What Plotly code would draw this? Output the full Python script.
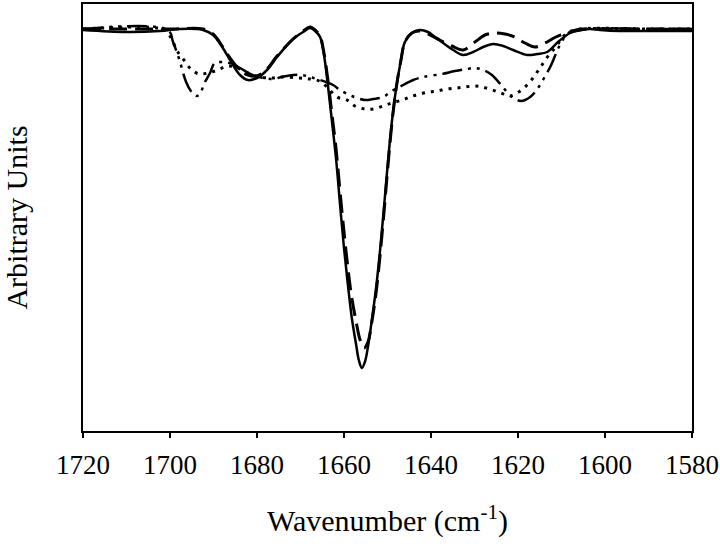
import plotly.graph_objects as go

# wavenumber (cm-1) and arbitrary intensity for the four spectra (baseline = 0)
wn_solid = [1720, 1710, 1702.3, 1697.7, 1692.4, 1690.1, 1688.0, 1686.2, 1683.9, 1682.1,
            1680.0, 1677.7, 1675.4, 1671.7, 1669.4, 1667.8, 1666.4, 1665.5, 1664.6, 1663.7,
            1662.8, 1661.8, 1660.9, 1660.0, 1659.1, 1658.2, 1657.2, 1656.6, 1655.9, 1655.2,
            1654.5, 1653.6, 1652.6, 1651.7, 1650.8, 1649.9, 1649.0, 1648.0, 1646.9, 1646.0,
            1644.4, 1642.6, 1640.7, 1639.1, 1637.2, 1634.9, 1632.6, 1630.3, 1628.0, 1625.7,
            1623.4, 1621.1, 1617.9, 1615.6, 1613.3, 1610.8, 1608.0, 1605.7, 1603.4, 1601.1,
            1596.6, 1589.7, 1580]
int_solid = [-0.01, -0.03, -0.02, 0.00, -0.01, -0.06, -0.18, -0.31, -0.46, -0.51,
             -0.49, -0.41, -0.28, -0.10, -0.03, 0.01, -0.03, -0.08, -0.26, -0.56,
             -0.91, -1.31, -1.76, -2.19, -2.56, -2.89, -3.16, -3.31, -3.39, -3.33,
             -3.18, -2.91, -2.58, -2.21, -1.78, -1.33, -0.93, -0.59, -0.31, -0.13,
             -0.04, -0.01, -0.03, -0.08, -0.14, -0.21, -0.26, -0.23, -0.18, -0.15,
             -0.17, -0.21, -0.26, -0.25, -0.23, -0.13, -0.04, -0.01, 0.00, -0.01,
             -0.02, -0.02, -0.02]

wn_dash = [1720, 1700, 1692.4, 1690.1, 1688.0, 1686.2, 1683.9, 1682.1, 1680.0, 1677.7,
           1675.4, 1671.7, 1669.4, 1667.8, 1666.4, 1665.5, 1664.6, 1663.7, 1662.8, 1661.8,
           1660.9, 1660.0, 1659.1, 1658.2, 1657.2, 1656.3, 1655.4, 1654.5, 1653.6, 1652.6,
           1651.7, 1650.8, 1649.9, 1649.0, 1648.0, 1646.9, 1646.0, 1644.4, 1642.6, 1640.7,
           1638.0, 1635.2, 1632.6, 1629.9, 1627.6, 1625.3, 1623.0, 1620.7, 1618.4, 1616.1,
           1613.8, 1611.3, 1608.7, 1605.7, 1603.4, 1590, 1580]
int_dash = [0.00, 0.00, 0.00, -0.05, -0.17, -0.29, -0.41, -0.46, -0.47, -0.40,
            -0.27, -0.10, -0.02, 0.02, -0.02, -0.07, -0.24, -0.51, -0.84, -1.21,
            -1.63, -2.03, -2.39, -2.69, -2.93, -3.11, -3.19, -3.13, -2.93, -2.63,
            -2.26, -1.83, -1.37, -0.95, -0.59, -0.31, -0.13, -0.04, -0.02, -0.05,
            -0.11, -0.17, -0.21, -0.13, -0.06, -0.04, -0.05, -0.08, -0.14, -0.18,
            -0.14, -0.08, -0.04, -0.01, 0.00, 0.00, 0.00]

wn_dot = [1720, 1700.9, 1700.0, 1699.1, 1698.2, 1696.8, 1695.2, 1693.3, 1691.3, 1689.0,
          1686.7, 1684.4, 1682.1, 1679.3, 1676.6, 1674.3, 1670.2, 1667.8, 1665.7, 1663.9,
          1661.6, 1659.3, 1657.5, 1655.2, 1653.3, 1651.0, 1649.0, 1646.6, 1644.8, 1642.6,
          1640.3, 1638.5, 1636.4, 1634.1, 1632.3, 1630.0, 1628.2, 1625.9, 1623.9, 1621.8,
          1619.5, 1617.5, 1615.9, 1614.5, 1612.9, 1611.3, 1609.9, 1608.3, 1605.7, 1590, 1580]
int_dot = [0.00, -0.01, -0.07, -0.15, -0.23, -0.31, -0.40, -0.45, -0.44, -0.41,
           -0.37, -0.39, -0.44, -0.48, -0.49, -0.48, -0.49, -0.50, -0.52, -0.58,
           -0.68, -0.71, -0.77, -0.80, -0.80, -0.77, -0.74, -0.71, -0.68, -0.65,
           -0.63, -0.62, -0.60, -0.59, -0.58, -0.57, -0.58, -0.61, -0.64, -0.67,
           -0.62, -0.54, -0.45, -0.36, -0.26, -0.18, -0.09, -0.03, 0.00, 0.00, 0.00]

wn_dashdot = [1720, 1700.5, 1699.3, 1697.9, 1696.3, 1695.2, 1694.0, 1693.1, 1692.2, 1690.8,
              1689.7, 1688.0, 1685.7, 1683.9, 1681.1, 1678.6, 1676.3, 1674.3, 1671.7, 1669.7,
              1667.8, 1665.5, 1662.5, 1660.9, 1658.2, 1655.2, 1653.3, 1651.0, 1649.0, 1646.4,
              1644.1, 1641.8, 1637.5, 1634.5, 1631.7, 1629.9, 1628.0, 1626.0, 1623.7, 1621.4,
              1619.3, 1617.2, 1615.4, 1614.0, 1612.6, 1611.5, 1610.6, 1609.4, 1608.0, 1605.7,
              1590, 1580]
int_dashdot = [0.00, -0.01, -0.13, -0.30, -0.53, -0.62, -0.67, -0.65, -0.55, -0.44,
               -0.34, -0.33, -0.35, -0.39, -0.46, -0.49, -0.50, -0.48, -0.46, -0.46,
               -0.48, -0.51, -0.56, -0.61, -0.67, -0.71, -0.70, -0.68, -0.62, -0.56,
               -0.51, -0.48, -0.45, -0.42, -0.40, -0.39, -0.41, -0.46, -0.57, -0.68,
               -0.72, -0.68, -0.59, -0.49, -0.38, -0.27, -0.18, -0.09, -0.03, 0.00,
               0.00, 0.00]

x_ticks = [1720, 1700, 1680, 1660, 1640, 1620, 1600, 1580]

fig = go.Figure()
fig.add_trace(go.Scatter(x=wn_dot, y=int_dot, mode="lines", line_shape="spline",
                         line=dict(color="black", width=3, dash="3px,6px")))
fig.add_trace(go.Scatter(x=wn_dashdot, y=int_dashdot, mode="lines", line_shape="spline",
                         line=dict(color="black", width=2.5, dash="20px,6px,3px,6px,3px,6px")))
fig.add_trace(go.Scatter(x=wn_dash, y=int_dash, mode="lines", line_shape="spline",
                         line=dict(color="black", width=3, dash="18px,8px")))
fig.add_trace(go.Scatter(x=wn_solid, y=int_solid, mode="lines", line_shape="spline",
                         line=dict(color="black", width=2.5)))

serif = "Liberation Serif, Times New Roman, serif"
fig.update_layout(
    width=720, height=546,
    margin=dict(l=83, r=28, t=4, b=115),
    plot_bgcolor="white", paper_bgcolor="white",
    showlegend=False,
    font=dict(family=serif, color="black"),
)
fig.update_xaxes(
    range=[1720, 1580], tickvals=x_ticks, automargin=False,
    ticks="outside", ticklen=5, tickwidth=1.5, tickcolor="black",
    tickfont=dict(size=27, family=serif), ticklabelstandoff=4,
    showline=True, linecolor="black", linewidth=2, mirror=True,
    showgrid=False, zeroline=False,
    title=dict(text="Wavenumber (cm<sup>-1</sup>)", font=dict(size=30, family=serif), standoff=31),
)
fig.update_yaxes(
    range=[-4.02, 0.25], automargin=False,
    showticklabels=False, ticks="",
    showline=True, linecolor="black", linewidth=2, mirror=True,
    showgrid=False, zeroline=False,
    title=dict(text="Arbitrary Units", font=dict(size=30, family=serif), standoff=52),
)

# drop the page's default body margin so the 720x546 figure fills the window
fig.write_html("out.html", config={"displayModeBar": False},
               post_script="document.body.style.margin='0px';")
